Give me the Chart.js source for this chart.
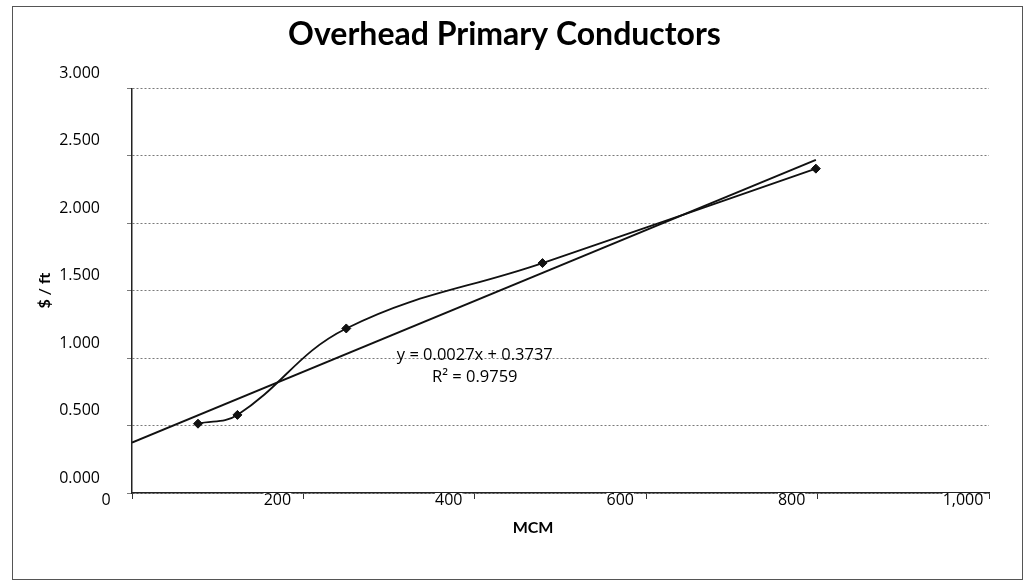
<!DOCTYPE html>
<html>
<head>
<meta charset="utf-8">
<script src="https://cdn.jsdelivr.net/npm/chart.js@4/dist/chart.umd.min.js"></script>
<style>
  html, body { margin: 0; padding: 0; background: #ffffff; }
  #wrap { width: 1028px; height: 582px; }
</style>
</head>
<body>
<div id="wrap"><canvas id="c" width="1028" height="582"></canvas></div>
<script>
// ---- data ----
const mcmValues = [77, 123, 250, 479, 798];
const costPerFt = [0.514, 0.579, 1.22, 1.705, 2.405];

// linear trendline endpoints (as drawn in the reference)
const trendX = [0, 798];
const trendY = [0.374, 2.47];

const xTickValues = [0, 200, 400, 600, 800, 1000];
const xTickLabels = ['0', '200', '400', '600', '800', '1,000'];
const yTickValues = [0, 0.5, 1, 1.5, 2, 2.5, 3];
const yTickLabels = ['0.000', '0.500', '1.000', '1.500', '2.000', '2.500', '3.000'];

const chartTitle = 'Overhead Primary Conductors';
const xTitle = 'MCM';
const yTitle = '$ / ft';
const equationText = 'y = 0.0027x + 0.3737';
const r2Text = 'R\u00B2 = 0.9759';

const FONT = "Lato, 'Open Sans', 'DejaVu Sans', sans-serif";
const TICKFONT = "'Open Sans', Lato, 'DejaVu Sans', sans-serif";

const pointsData = mcmValues.map((x, i) => ({ x: x, y: costPerFt[i] }));
const trendData = trendX.map((x, i) => ({ x: x, y: trendY[i] }));

const frameAndText = {
  id: 'frameAndText',
  beforeDraw(chart) {
    const ctx = chart.ctx;
    ctx.save();
    ctx.fillStyle = '#ffffff';
    ctx.fillRect(0, 0, chart.width, chart.height);
    ctx.strokeStyle = '#555555';
    ctx.lineWidth = 1;
    ctx.strokeRect(12.5, 6.5, 1010, 573);
    ctx.restore();
  },
  afterDatasetsDraw(chart) {
    const ctx = chart.ctx;
    const xs = chart.scales.x, ys = chart.scales.y;
    ctx.save();
    ctx.fillStyle = '#000000';
    ctx.textAlign = 'center';
    ctx.textBaseline = 'middle';
    ctx.font = '16.5px ' + TICKFONT;
    const ex = xs.getPixelForValue(400);
    ctx.fillText(equationText, ex, ys.getPixelForValue(1.02));
    ctx.fillText(r2Text, ex, ys.getPixelForValue(0.86));
    ctx.font = 'bold 16px ' + FONT;
    ctx.fillText(xTitle, xs.getPixelForValue(468), 528);
    ctx.restore();
  }
};

new Chart(document.getElementById('c'), {
  type: 'scatter',
  data: {
    datasets: [
      {
        label: 'Trendline',
        data: trendData,
        showLine: true,
        borderColor: '#111111',
        borderWidth: 2,
        pointRadius: 0,
        tension: 0
      },
      {
        label: '$ / ft',
        data: pointsData,
        showLine: true,
        borderColor: '#111111',
        borderWidth: 1.8,
        backgroundColor: '#111111',
        pointStyle: 'rectRot',
        pointRadius: 4.5,
        pointBorderWidth: 1,
        pointBackgroundColor: '#111111',
        pointBorderColor: '#111111',
        tension: 0.4
      }
    ]
  },
  options: {
    responsive: false,
    animation: false,
    devicePixelRatio: 1,
    layout: { padding: { left: 20, right: 39, top: 0, bottom: 0 } },
    plugins: {
      legend: { display: false },
      tooltip: { enabled: false },
      title: {
        display: true,
        text: chartTitle,
        color: '#000000',
        font: { family: FONT, size: 32, weight: 'bold' },
        padding: { top: 15, bottom: 35 }
      }
    },
    scales: {
      x: {
        type: 'linear',
        min: 0,
        max: 1000,
        afterBuildTicks: (s) => { s.ticks = xTickValues.map(v => ({ value: v })); },
        afterFit: (s) => { s.height = 89; },
        ticks: {
          callback: (v, i) => xTickLabels[i],
          color: '#000000',
          font: { family: TICKFONT, size: 16 },
          padding: -8,
          labelOffset: -26,
          maxRotation: 0,
          autoSkip: false,
          showLabelBackdrop: true,
          backdropColor: '#ffffff',
          backdropPadding: 0
        },
        grid: {
          drawOnChartArea: false,
          drawTicks: true,
          tickLength: 6,
          color: '#333333',
          lineWidth: 1
        },
        border: { display: true, color: '#222222', width: 1.5 }
      },
      y: {
        type: 'linear',
        min: 0,
        max: 3,
        afterBuildTicks: (s) => { s.ticks = yTickValues.map(v => ({ value: v })); },
        afterFit: (s) => { s.width = 112; },
        ticks: {
          callback: (v, i) => yTickLabels[i],
          color: '#000000',
          font: { family: TICKFONT, size: 16 },
          padding: 27,
          labelOffset: -15,
          autoSkip: false
        },
        grid: {
          drawOnChartArea: true,
          drawTicks: true,
          tickLength: 5,
          color: '#7a7a7a',
          lineWidth: 1
        },
        border: { display: true, color: '#222222', width: 1.5, dash: [2, 2] },
        title: {
          display: true,
          text: yTitle,
          color: '#000000',
          font: { family: FONT, size: 16, weight: 'bold' },
          padding: { top: 15, bottom: 0 }
        }
      }
    }
  },
  plugins: [frameAndText]
});
</script>
</body>
</html>
